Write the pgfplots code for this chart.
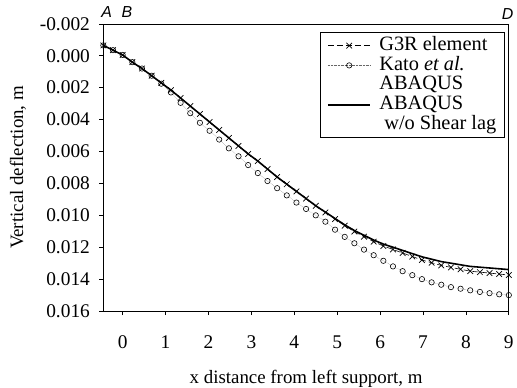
\documentclass[border=0pt]{standalone}
\usepackage{pgfplots}
\pgfplotsset{compat=1.18}
\usepackage{fontspec}
\setmainfont{Liberation Serif}
\newfontfamily\labsans{Liberation Sans}
\pgfplotsset{legend image code/.code={\draw[mark repeat=2,mark phase=2,#1] plot coordinates {(0cm,0cm) (0.75cm,0cm) (1.5cm,0cm)};}}

\pgfplotstableread{
x      sol      g3r      kato
-0.45  -0.00065 -0.00065 -0.00065
-0.225 -0.00035 -0.00035 -0.00035
0.0    -0.00005 -0.00005 -0.00005
0.225  0.00040  0.00040  0.00040
0.45   0.00080  0.00080  0.00080
0.675  0.00125  0.00125  0.00125
0.9    0.00170  0.00170  0.00175
1.125  0.00215  0.00215  0.00230
1.35   0.00265  0.00265  0.00295
1.575  0.00315  0.00315  0.00360
1.8    0.00365  0.00365  0.00420
2.025  0.00415  0.00415  0.00470
2.25   0.00465  0.00465  0.00525
2.475  0.00515  0.00515  0.00580
2.7    0.00565  0.00565  0.00630
2.925  0.00615  0.00615  0.00685
3.15   0.00660  0.00660  0.00735
3.375  0.00710  0.00710  0.00785
3.6    0.00760  0.00760  0.00830
3.825  0.00805  0.00805  0.00875
4.05   0.00850  0.00850  0.00920
4.275  0.00895  0.00895  0.00960
4.5    0.00940  0.00940  0.01000
4.725  0.00980  0.00982  0.01040
4.95   0.01020  0.01024  0.01090
5.175  0.01060  0.01065  0.01135
5.4    0.01095  0.01102  0.01175
5.625  0.01125  0.01134  0.01215
5.85   0.01155  0.01165  0.01250
6.075  0.01180  0.01192  0.01285
6.3    0.01200  0.01214  0.01320
6.525  0.01220  0.01236  0.01350
6.75   0.01240  0.01258  0.01375
6.975  0.01260  0.01280  0.01400
7.2    0.01275  0.01297  0.01420
7.425  0.01290  0.01314  0.01435
7.65   0.01300  0.01326  0.01450
7.875  0.01310  0.01338  0.01460
8.1    0.01320  0.01350  0.01470
8.325  0.01325  0.01356  0.01480
8.55   0.01330  0.01362  0.01488
8.775  0.01335  0.01368  0.01495
9.0    0.01340  0.01374  0.01500
}\data

\begin{document}
\begin{tikzpicture}
\begin{axis}[
  name=ax,
  scale only axis, width=408pt, height=289pt,
  clip=false,
  xmin=-0.45, xmax=9, ymin=-0.002, ymax=0.016, y dir=reverse,
  xtick={0,1,2,3,4,5,6,7,8,9},
  ytick={-0.002,0,0.002,0.004,0.006,0.008,0.010,0.012,0.014,0.016},
  yticklabels={-0.002,0.000,0.002,0.004,0.006,0.008,0.010,0.012,0.014,0.016},
  scaled y ticks=false,
  /pgf/number format/assume math mode=true,
  tick align=outside, xtick pos=bottom, ytick pos=left,
  major tick length=4pt,
  axis line style={black, line width=0.7pt},
  tick style={black, line width=0.7pt},
  tick label style={font=\fontsize{19.5}{22}\selectfont},
  yticklabel style={xshift=-6pt},
  xticklabel style={yshift=-17pt},
  label style={font=\fontsize{19}{22}\selectfont},
  xlabel={x distance from left support, m},
  ylabel={Vertical deflection, m},
  xlabel style={yshift=-18pt, inner sep=0pt},
  ylabel style={yshift=7pt},
  legend style={at={(0.99,0.97)}, anchor=north east, draw=black, line width=0.6pt,
    font=\fontsize{20.5}{22}\selectfont, legend cell align=left,
    nodes={inner sep=1.2pt, text height=13.5pt, text depth=4pt}, inner xsep=7pt, inner ysep=3pt,
    /tikz/every odd column/.append style={column sep=7pt}},
]
\addplot[black, line width=0.6pt, dash pattern=on 6pt off 3pt, mark=x, mark size=4pt, mark options={solid, line width=0.7pt}] table[x=x, y=g3r] {\data};
\addlegendentry{G3R element}
\addplot[black!60, line width=0.4pt, densely dotted, mark=o, mark size=2.7pt, mark options={solid, black, line width=0.6pt}] table[x=x, y=kato] {\data};
\addlegendentry{Kato \textit{et al.}}
\addlegendimage{empty legend}
\addlegendentry{ABAQUS}
\addplot[black, line width=1.6pt] table[x=x, y=sol] {\data};
\addlegendentry{ABAQUS}
\addlegendimage{empty legend}
\addlegendentry{\hspace{5pt}w/o Shear lag}
\node[anchor=south, font=\labsans\itshape\fontsize{16}{16}\selectfont, inner sep=0pt] at (axis cs:-0.37,-0.002) [yshift=6pt] {A};
\node[anchor=south, font=\labsans\itshape\fontsize{16}{16}\selectfont, inner sep=0pt] at (axis cs:0.1,-0.002) [yshift=6pt] {B};
\node[anchor=south, font=\labsans\itshape\fontsize{16}{16}\selectfont, inner sep=0pt] at (axis cs:8.97,-0.002) [yshift=4pt] {D};
\end{axis}
\path (ax.south west) ++(-104pt,-74pt);
\path (ax.north east) ++(5pt,24pt);
\end{tikzpicture}
\end{document}
